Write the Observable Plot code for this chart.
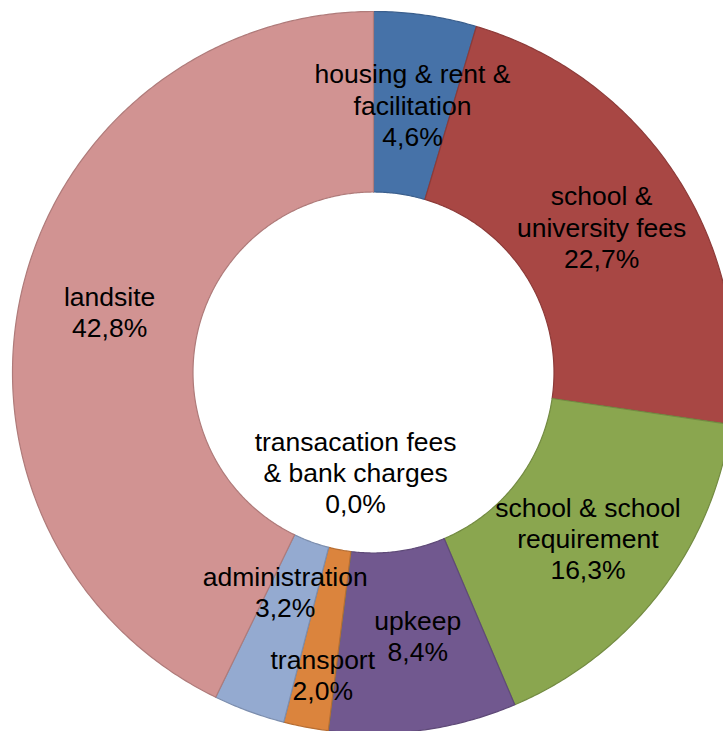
<!DOCTYPE html>
<html><head><meta charset="utf-8">
<script src="https://cdn.jsdelivr.net/npm/d3@7"></script>
<script src="https://cdn.jsdelivr.net/npm/@observablehq/plot@0.6"></script>
<style>html,body{margin:0;padding:0;background:#fff;overflow:hidden}#chart svg{overflow:hidden;display:block}</style>
</head><body><div id="chart"></div>
<script>
// Data
const categories = [
  "housing & rent &\nfacilitation",
  "school &\nuniversity fees",
  "school & school\nrequirement",
  "upkeep",
  "transacation fees\n& bank charges",
  "transport",
  "administration",
  "landsite"
];
const values = [4.6, 22.7, 16.3, 8.4, 0.0, 2.0, 3.2, 42.8];
const colors = ["#4672A8", "#A84744", "#8AA64F", "#71588F", "#3D96AE", "#DB843D", "#94AAD0", "#D19392"];
// label nudges in pixels (Excel moved some labels to avoid overlaps)
const labelNudge = [[0,0],[0,0],[0,0],[7,-5],[16,-169],[0,36],[5,-35],[0,0]];

// Layout
const W = 723, H = 731;
const R = 361;            // outer radius, px
const cx = 373, cy = 372; // centre, px
const innerRatio = 0.5;

const pie = d3.pie().sort(null).value(d => d)(values);

// slice polygons in unit coordinates (radius 1), y up
const slicePts = [];
pie.forEach((p, i) => {
  const a0 = p.startAngle, a1 = p.endAngle;
  const n = Math.max(2, Math.ceil((a1 - a0) / (Math.PI / 360)));
  const stroke = d3.color(colors[i]).darker(0.5).formatHex();
  for (let k = 0; k <= n; k++) {
    const a = a0 + (a1 - a0) * k / n;
    slicePts.push({key: i, x: Math.sin(a), y: Math.cos(a), fill: colors[i], stroke});
  }
  for (let k = n; k >= 0; k--) {
    const a = a0 + (a1 - a0) * k / n;
    slicePts.push({key: i, x: innerRatio * Math.sin(a), y: innerRatio * Math.cos(a), fill: colors[i], stroke});
  }
});

const fmt = v => d3.format(".1f")(v).replace(".", ",") + "%";
const rMid = (1 + innerRatio) / 2;
const labels = pie.map((p, i) => {
  const a = (p.startAngle + p.endAngle) / 2;
  return {
    x: rMid * Math.sin(a) + labelNudge[i][0] / R,
    y: rMid * Math.cos(a) - labelNudge[i][1] / R,
    text: categories[i] + "\n" + fmt(values[i])
  };
});

const chart = Plot.plot({
  width: W, height: H,
  margin: 0,
  x: {domain: [-cx / R, (W - cx) / R], axis: null},
  y: {domain: [-(H - cy) / R, cy / R], axis: null},
  color: {type: "identity"},
  style: {background: "#fff", fontFamily: "'Liberation Sans', Arial, sans-serif"},
  marks: [
    Plot.line(slicePts, {x: "x", y: "y", z: "key", fill: "fill", stroke: "stroke", strokeWidth: 1.2, curve: "linear-closed"}),
    Plot.text(labels, {x: "x", y: "y", text: "text", fontSize: 26.5, lineHeight: 1.18, fill: "#000", textAnchor: "middle", fontFamily: "'Liberation Sans', Arial, sans-serif"})
  ]
});
document.getElementById("chart").appendChild(chart);
</script>
</body></html>
